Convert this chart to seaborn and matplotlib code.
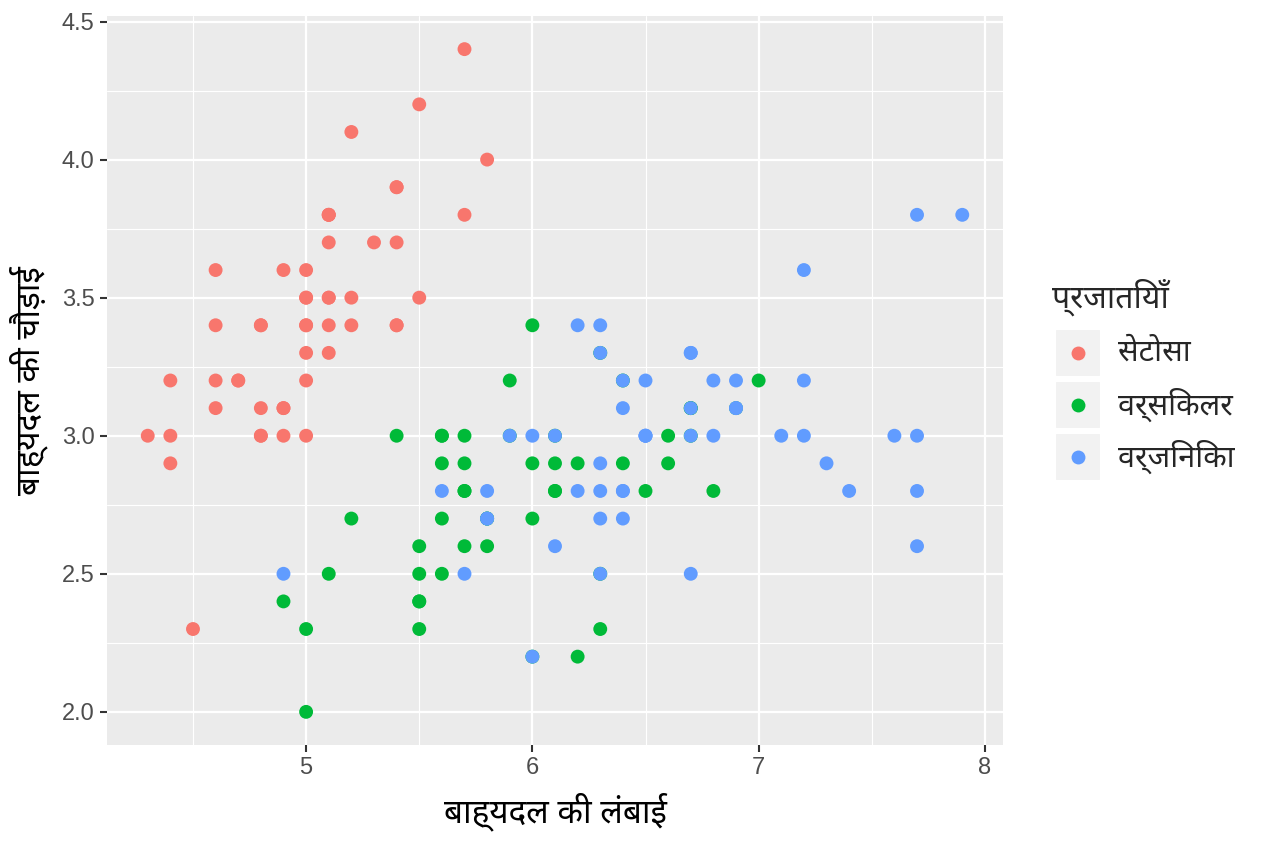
import matplotlib
matplotlib.use("Agg")
import matplotlib.pyplot as plt
from matplotlib.lines import Line2D
from matplotlib.patches import Rectangle
from matplotlib.ticker import MultipleLocator
import seaborn as sns
import pandas as pd

species_names = ["सेटोसा", "वर्सिकलर", "वर्जिनिका"]
colors = ["#F8766D", "#00BA38", "#619CFF"]

setosa_len = [5.1, 4.9, 4.7, 4.6, 5.0, 5.4, 4.6, 5.0, 4.4, 4.9, 5.4, 4.8, 4.8, 4.3, 5.8, 5.7, 5.4, 5.1, 5.7, 5.1,
              5.4, 5.1, 4.6, 5.1, 4.8, 5.0, 5.0, 5.2, 5.2, 4.7, 4.8, 5.4, 5.2, 5.5, 4.9, 5.0, 5.5, 4.9, 4.4, 5.1,
              5.0, 4.5, 4.4, 5.0, 5.1, 4.8, 5.1, 4.6, 5.3, 5.0]
setosa_wid = [3.5, 3.0, 3.2, 3.1, 3.6, 3.9, 3.4, 3.4, 2.9, 3.1, 3.7, 3.4, 3.0, 3.0, 4.0, 4.4, 3.9, 3.5, 3.8, 3.8,
              3.4, 3.7, 3.6, 3.3, 3.4, 3.0, 3.4, 3.5, 3.4, 3.2, 3.1, 3.4, 4.1, 4.2, 3.1, 3.2, 3.5, 3.6, 3.0, 3.4,
              3.5, 2.3, 3.2, 3.5, 3.8, 3.0, 3.8, 3.2, 3.7, 3.3]
versicolor_len = [7.0, 6.4, 6.9, 5.5, 6.5, 5.7, 6.3, 4.9, 6.6, 5.2, 5.0, 5.9, 6.0, 6.1, 5.6, 6.7, 5.6, 5.8, 6.2, 5.6,
                  5.9, 6.1, 6.3, 6.1, 6.4, 6.6, 6.8, 6.7, 6.0, 5.7, 5.5, 5.5, 5.8, 6.0, 5.4, 6.0, 6.7, 6.3, 5.6, 5.5,
                  5.5, 6.1, 5.8, 5.0, 5.6, 5.7, 5.7, 6.2, 5.1, 5.7]
versicolor_wid = [3.2, 3.2, 3.1, 2.3, 2.8, 2.8, 3.3, 2.4, 2.9, 2.7, 2.0, 3.0, 2.2, 2.9, 2.9, 3.1, 3.0, 2.7, 2.2, 2.5,
                  3.2, 2.8, 2.5, 2.8, 2.9, 3.0, 2.8, 3.0, 2.9, 2.6, 2.4, 2.4, 2.7, 2.7, 3.0, 3.4, 3.1, 2.3, 3.0, 2.5,
                  2.6, 3.0, 2.6, 2.3, 2.7, 3.0, 2.9, 2.9, 2.5, 2.8]
virginica_len = [6.3, 5.8, 7.1, 6.3, 6.5, 7.6, 4.9, 7.3, 6.7, 7.2, 6.5, 6.4, 6.8, 5.7, 5.8, 6.4, 6.5, 7.7, 7.7, 6.0,
                 6.9, 5.6, 7.7, 6.3, 6.7, 7.2, 6.2, 6.1, 6.4, 7.2, 7.4, 7.9, 6.4, 6.3, 6.1, 7.7, 6.3, 6.4, 6.0, 6.9,
                 6.7, 6.9, 5.8, 6.8, 6.7, 6.7, 6.3, 6.5, 6.2, 5.9]
virginica_wid = [3.3, 2.7, 3.0, 2.9, 3.0, 3.0, 2.5, 2.9, 2.5, 3.6, 3.2, 2.7, 3.0, 2.5, 2.8, 3.2, 3.0, 3.8, 2.6, 2.2,
                 3.2, 2.8, 2.8, 2.7, 3.3, 3.2, 2.8, 3.0, 2.8, 3.0, 2.8, 3.8, 2.8, 2.8, 2.6, 3.0, 3.4, 3.1, 3.0, 3.1,
                 3.1, 3.1, 2.7, 3.2, 3.3, 3.0, 2.5, 3.0, 3.4, 3.0]

x_ticks = [5, 6, 7, 8]
x_ticklabels = ["5", "6", "7", "8"]
y_ticks = [2.0, 2.5, 3.0, 3.5, 4.0, 4.5]
y_ticklabels = ["2.0", "2.5", "3.0", "3.5", "4.0", "4.5"]

x_label = "बाह्यदल की लंबाई"
y_label = "बाह्यदल की चौड़ाई"
legend_title = "प्रजातियाँ"

df = pd.DataFrame({
    "len": setosa_len + versicolor_len + virginica_len,
    "wid": setosa_wid + versicolor_wid + virginica_wid,
    "sp": [species_names[0]] * len(setosa_len) + [species_names[1]] * len(versicolor_len)
          + [species_names[2]] * len(virginica_len),
})

sns.set_theme(style="white")
plt.rcParams["font.family"] = ["Liberation Sans", "Noto Sans Devanagari"]
deva = ["Noto Sans Devanagari", "Liberation Sans"]

fig = plt.figure(figsize=(12.64, 8.43), dpi=100)
ax = fig.add_axes([107 / 1264, 1 - 745 / 843, (1003 - 107) / 1264, (745 - 16) / 843])
ax.set_facecolor("#EBEBEB")

sns.scatterplot(data=df, x="len", y="wid", hue="sp", palette=colors, hue_order=species_names,
                s=100, linewidth=0, alpha=1, ax=ax, legend=False, zorder=3)

ax.set_xlim(4.12, 8.08)
ax.set_ylim(1.88, 4.52)
ax.set_xticks(x_ticks)
ax.set_xticklabels(x_ticklabels)
ax.set_yticks(y_ticks)
ax.set_yticklabels(y_ticklabels)
ax.xaxis.set_minor_locator(MultipleLocator(0.5))
ax.yaxis.set_minor_locator(MultipleLocator(0.25))
ax.grid(which="major", color="white", linewidth=1.6, zorder=0)
ax.grid(which="minor", color="white", linewidth=0.8, zorder=0)
ax.set_axisbelow(True)
for s in ax.spines.values():
    s.set_visible(False)
ax.tick_params(which="major", bottom=True, left=True, length=5, width=1.5, color="#333333",
               labelcolor="#4D4D4D", labelsize=17, pad=4)
ax.tick_params(which="minor", bottom=False, left=False, length=0)

ax.set_xlabel(x_label, fontsize=24, family=deva, color="black", labelpad=9)
ax.set_ylabel(y_label, fontsize=24, family=deva, color="black", labelpad=10)

# legend (ggplot style)
fig.text(1052 / 1264, 1 - 297 / 843, legend_title, fontsize=23, family=deva, va="center", ha="left")
key_centers = [353, 405, 457]
for name, col, yc in zip(species_names, colors, key_centers):
    fig.add_artist(Rectangle((1055 / 1264, 1 - (yc + 24) / 843), 46 / 1264, 48 / 843,
                             transform=fig.transFigure, facecolor="#F2F2F2", edgecolor="white", linewidth=1.5))
    fig.add_artist(Line2D([1078 / 1264], [1 - yc / 843], transform=fig.transFigure, marker="o",
                          markersize=10, markerfacecolor=col, markeredgewidth=0, linestyle="none"))
    fig.text(1118 / 1264, 1 - yc / 843, name, fontsize=22, family=deva, va="center", ha="left")

fig.savefig("out.png", dpi=100)
